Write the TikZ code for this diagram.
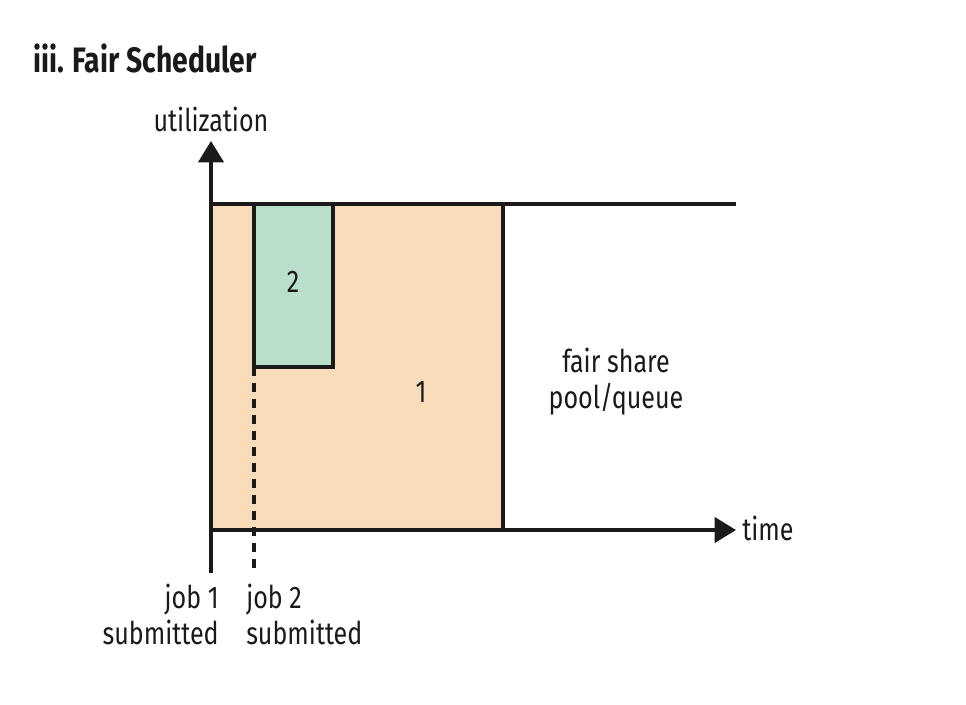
\documentclass[tikz,border=0pt]{standalone}
\usepackage{fontspec}
\setmainfont[FakeStretch=0.8]{Fira Sans}
\usetikzlibrary{arrows.meta}
\definecolor{jobone}{HTML}{F9DDBB}
\definecolor{jobtwo}{HTML}{B9DEC9}
\definecolor{ink}{HTML}{1A1A1A}
\tikzset{
  axisline/.style={line width=2.4pt, draw=ink},
  frameline/.style={line width=2.4pt, draw=ink},
  axisarrow/.style={-{Triangle[length=16pt,width=19pt]}},
  lbl/.style={font=\fontsize{23.5}{27}\selectfont, text=ink, inner sep=0pt},
  titlelbl/.style={font=\bfseries\fontsize{26.5}{30}\selectfont, text=ink, inner sep=0pt},
}
\begin{document}
\begin{tikzpicture}[x=0.75pt,y=-0.75pt]
  \useasboundingbox (0,0) rectangle (966,704);

  % key points (pixel grid, y downward)
  \coordinate (origin) at (211,530);
  \coordinate (ytip)   at (211,141);
  \coordinate (xtip)   at (736,530);
  \coordinate (topL)   at (211,204);
  \coordinate (topR)   at (736,204);
  \coordinate (jobend) at (503,204);
  \coordinate (jobendb) at (503,530);
  \coordinate (twoTL)  at (254,204);
  \coordinate (twoBR)  at (333,367);
  \coordinate (twoBL)  at (254,367);
  \coordinate (dashend) at (254,573);
  \coordinate (tickend) at (211,573);

  % job 1 share and job 2 share
  \fill[jobone] (topL) rectangle (jobendb);
  \filldraw[fill=jobtwo, frameline] (twoTL) rectangle (twoBR);

  % pool capacity line and end of job 1
  \draw[frameline] (topL) -- (topR);
  \draw[frameline] (jobend) -- (jobendb);

  % axes
  \draw[axisline, axisarrow] (tickend) -- (ytip);
  \draw[axisline, axisarrow] (origin) -- (xtip);

  % job 2 submission marker
  \draw[line width=2.4pt, draw=ink, dash pattern=on 7pt off 5pt] (twoBL) -- (dashend);

  % labels
  \node[titlelbl, anchor=west] (title) at (33,58) {iii. Fair Scheduler};
  \node[lbl] (ylab) at (211,119) {utilization};
  \node[lbl, anchor=west] (xlab) at (742,528) {time};
  \node[lbl] (two) at (293,282) {2};
  \node[lbl] (one) at (421,392) {1};
  \node[lbl, align=center] (pool) at (616,382) {fair share\\pool/queue};
  \node[lbl, align=right, anchor=north east] (sub1) at (219,584) {job 1\\submitted};
  \node[lbl, align=left, anchor=north west] (sub2) at (246,584) {job 2\\submitted};
\end{tikzpicture}
\end{document}
